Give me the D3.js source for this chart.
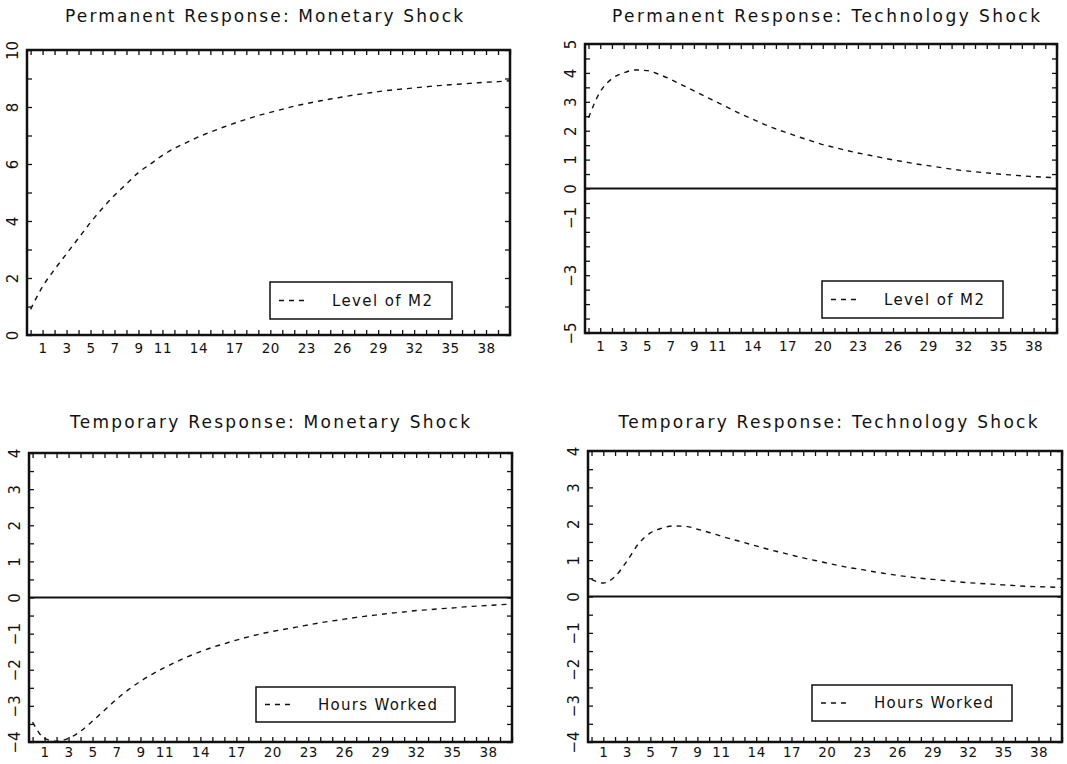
<!DOCTYPE html>
<html>
<head>
<meta charset="utf-8">
<script src="https://cdn.jsdelivr.net/npm/d3@7"></script>
<style>
  html, body { margin: 0; padding: 0; background: #fff; }
  svg { display: block; }
  text { font-family: "DejaVu Sans", sans-serif; fill: #111; }
</style>
</head>
<body>
<svg id="chart" width="1067" height="764"></svg>
<script>
// Impulse responses, horizon 0..40 quarters
const periods = d3.range(0, 41);

const m2MonetaryShock = [
  0.9, 1.7, 2.3, 2.85, 3.4, 3.95, 4.45, 4.9, 5.3, 5.7,
  6.0, 6.3, 6.55, 6.75, 6.95, 7.12, 7.28, 7.43, 7.57, 7.7,
  7.81, 7.92, 8.03, 8.12, 8.2, 8.28, 8.35, 8.42, 8.48, 8.54,
  8.59, 8.63, 8.67, 8.71, 8.75, 8.78, 8.81, 8.84, 8.87, 8.89, 8.92
];
const m2TechnologyShock = [
  2.45, 3.35, 3.8, 4.0, 4.1, 4.08, 3.95, 3.78, 3.58, 3.38,
  3.18, 2.98, 2.78, 2.58, 2.4, 2.22, 2.06, 1.92, 1.78, 1.65,
  1.52, 1.42, 1.32, 1.23, 1.15, 1.07, 0.99, 0.92, 0.85, 0.79,
  0.73, 0.67, 0.62, 0.58, 0.54, 0.5, 0.47, 0.44, 0.41, 0.39, 0.37
];
const hoursMonetaryShock = [
  -3.45, -3.9, -3.98, -3.9, -3.7, -3.42, -3.12, -2.82, -2.55, -2.32,
  -2.12, -1.94, -1.78, -1.63, -1.5, -1.38, -1.28, -1.18, -1.09, -1.01,
  -0.94, -0.88, -0.82, -0.76, -0.7, -0.65, -0.6, -0.55, -0.51, -0.47,
  -0.43, -0.4, -0.36, -0.34, -0.31, -0.29, -0.26, -0.24, -0.22, -0.2, -0.18
];
const hoursTechnologyShock = [
  0.47, 0.37, 0.55, 0.97, 1.45, 1.75, 1.88, 1.94, 1.93, 1.85,
  1.76, 1.66, 1.57, 1.48, 1.39, 1.3, 1.22, 1.14, 1.06, 0.99,
  0.92, 0.85, 0.79, 0.74, 0.68, 0.63, 0.58, 0.54, 0.5, 0.47,
  0.44, 0.41, 0.38, 0.36, 0.34, 0.32, 0.3, 0.28, 0.27, 0.26, 0.25
];

const xTickLabels = [1, 3, 5, 7, 9, 11, 14, 17, 20, 23, 26, 29, 32, 35, 38];
const yLabelsPermMonetary = [0, 2, 4, 6, 8, 10];
const yLabelsPermTechnology = [5, 4, 3, 2, 1, 0, -1, -3, -5];
const yLabelsTemporary = [4, 3, 2, 1, 0, -1, -2, -3, -4];

const titles = [
  "Permanent Response: Monetary Shock",
  "Permanent Response: Technology Shock",
  "Temporary Response: Monetary Shock",
  "Temporary Response: Technology Shock"
];
const legendLabels = ["Level of M2", "Level of M2", "Hours Worked", "Hours Worked"];

// panel layout
const panels = [
  { title: titles[0], values: m2MonetaryShock, legend: legendLabels[0],
    yDomain: [0, 10], yLabels: yLabelsPermMonetary, minorStep: 1,
    box: { x: 27, y: 50, w: 483, h: 285 }, xLabelPad: 8,
    titleY: 22, titleX: 264, titleLen: 398,
    legendBox: { x: 243, y: 232, w: 182, h: 37 }, legendTextLen: 100 },
  { title: titles[1], values: m2TechnologyShock, legend: legendLabels[1],
    yDomain: [-5, 5], yLabels: yLabelsPermTechnology, minorStep: 0.5,
    box: { x: 585, y: 44, w: 472, h: 289 }, xLabelPad: 8,
    titleY: 22, titleX: 826, titleLen: 428,
    legendBox: { x: 237, y: 237, w: 181, h: 37 }, legendTextLen: 100 },
  { title: titles[2], values: hoursMonetaryShock, legend: legendLabels[2],
    yDomain: [-4, 4], yLabels: yLabelsTemporary, minorStep: 0.5,
    box: { x: 29, y: 453, w: 483, h: 289 }, xLabelPad: 5,
    titleY: 428, titleX: 270, titleLen: 400,
    legendBox: { x: 227, y: 234, w: 199, h: 35 }, legendTextLen: 119 },
  { title: titles[3], values: hoursTechnologyShock, legend: legendLabels[3],
    yDomain: [-4, 4], yLabels: yLabelsTemporary, minorStep: 0.5,
    box: { x: 588, y: 451, w: 474, h: 291 }, xLabelPad: 5,
    titleY: 428, titleX: 828, titleLen: 419,
    legendBox: { x: 224, y: 234, w: 200, h: 36 }, legendTextLen: 119 }
];

const svg = d3.select("#chart");
const fmt = d => (d < 0 ? "\u2212" + Math.abs(d) : String(d));

panels.forEach(p => {
  const { x: bx, y: by, w, h } = p.box;

  svg.append("text")
    .attr("x", p.titleX)
    .attr("y", p.titleY)
    .attr("text-anchor", "middle")
    .attr("font-size", 17)
    .attr("textLength", p.titleLen)
    .attr("lengthAdjust", "spacing")
    .text(p.title);

  const g = svg.append("g").attr("transform", `translate(${bx},${by})`);

  const x = d3.scaleLinear().domain([-0.3, 40]).range([0, w]);
  const y = d3.scaleLinear().domain(p.yDomain).range([h, 0]);

  // inward minor ticks on all four sides
  const xMinor = d3.range(0, 41);
  const yMinor = d3.range(p.yDomain[0], p.yDomain[1] + 1e-9, p.minorStep);

  const styleTicks = sel => {
    sel.select(".domain").remove();
    sel.selectAll("line").attr("stroke", "#111").attr("stroke-width", 1.3);
  };

  g.append("g").attr("transform", `translate(0,${h})`)
    .call(d3.axisBottom(x).tickValues(xMinor).tickSize(-5).tickFormat(""))
    .call(styleTicks);
  g.append("g")
    .call(d3.axisTop(x).tickValues(xMinor).tickSize(-5).tickFormat(""))
    .call(styleTicks);
  g.append("g")
    .call(d3.axisLeft(y).tickValues(yMinor).tickSize(-5).tickFormat(""))
    .call(styleTicks);
  g.append("g").attr("transform", `translate(${w},0)`)
    .call(d3.axisRight(y).tickValues(yMinor).tickSize(-5).tickFormat(""))
    .call(styleTicks);

  // x tick labels
  const xl = g.append("g").attr("transform", `translate(0,${h})`)
    .call(d3.axisBottom(x).tickValues(xTickLabels).tickSize(0).tickPadding(p.xLabelPad).tickFormat(d3.format("d")));
  xl.select(".domain").remove();
  xl.selectAll("text")
    .attr("font-family", "DejaVu Sans, sans-serif")
    .attr("font-size", 13.5)
    .attr("letter-spacing", 0.5)
    .attr("fill", "#111");

  // y tick labels, rotated
  const yl = g.append("g")
    .call(d3.axisLeft(y).tickValues(p.yLabels).tickSize(0).tickFormat(fmt));
  yl.select(".domain").remove();
  yl.selectAll("text")
    .attr("x", null)
    .attr("dy", null)
    .attr("text-anchor", "middle")
    .attr("transform", "translate(-9,0) rotate(-90)")
    .attr("font-family", "DejaVu Sans, sans-serif")
    .attr("font-size", 15)
    .attr("fill", "#111");

  // zero line
  if (p.yDomain[0] < 0) {
    g.append("line")
      .attr("x1", 0).attr("x2", w)
      .attr("y1", y(0)).attr("y2", y(0))
      .attr("stroke", "#111").attr("stroke-width", 2);
  }

  // response path
  const line = d3.line()
    .x((d, i) => x(periods[i]))
    .y(d => y(d))
    .curve(d3.curveMonotoneX);
  g.append("path")
    .datum(p.values)
    .attr("d", line)
    .attr("fill", "none")
    .attr("stroke", "#111")
    .attr("stroke-width", 1.4)
    .attr("stroke-dasharray", "5,5");

  // frame
  g.append("rect")
    .attr("x", 0).attr("y", 0).attr("width", w).attr("height", h)
    .attr("fill", "none").attr("stroke", "#111").attr("stroke-width", 2.5);

  // legend
  const lb = p.legendBox;
  const lg = g.append("g").attr("transform", `translate(${lb.x},${lb.y})`);
  lg.append("rect")
    .attr("width", lb.w).attr("height", lb.h)
    .attr("fill", "#fff").attr("stroke", "#111").attr("stroke-width", 1.5);
  lg.append("line")
    .attr("x1", 9).attr("x2", 37)
    .attr("y1", lb.h / 2).attr("y2", lb.h / 2)
    .attr("stroke", "#111").attr("stroke-width", 1.4)
    .attr("stroke-dasharray", "5,5");
  lg.append("text")
    .attr("x", 62).attr("y", lb.h / 2)
    .attr("dy", "0.36em")
    .attr("font-size", 15)
    .attr("textLength", p.legendTextLen)
    .attr("lengthAdjust", "spacing")
    .text(p.legend);
});
</script>
</body>
</html>
